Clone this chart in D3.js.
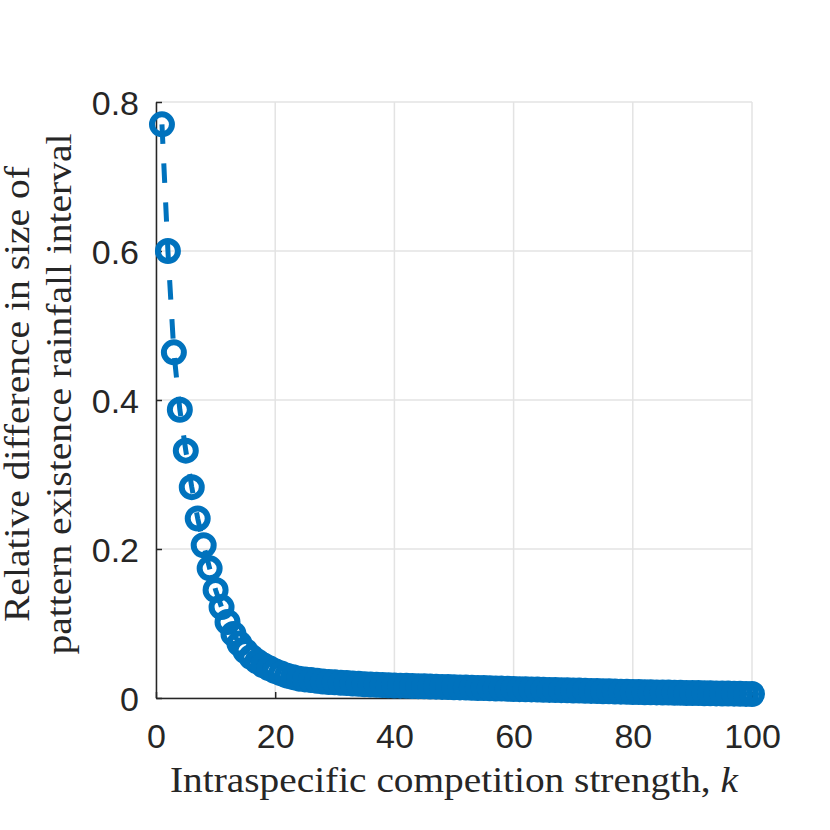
<!DOCTYPE html>
<html>
<head>
<meta charset="utf-8">
<script src="https://cdn.jsdelivr.net/npm/d3@7"></script>
<style>
  html, body { margin: 0; padding: 0; background: #ffffff; }
  svg { display: block; }
</style>
</head>
<body>
<svg id="chart" width="830" height="830"></svg>
<script>
// Valeurs : k = 1..100
const kValues = d3.range(1, 101);
const relDiff = [
  0.770, 0.600, 0.464, 0.387, 0.332, 0.283, 0.241, 0.205, 0.174, 0.145,
  0.122, 0.102, 0.086, 0.073, 0.063, 0.055, 0.049, 0.044, 0.040, 0.036,
  0.033, 0.030, 0.028, 0.026, 0.025, 0.024, 0.023, 0.022, 0.0215, 0.021,
  0.0205, 0.020, 0.0195, 0.019, 0.0185, 0.018, 0.0177, 0.0174, 0.0171, 0.0168,
  0.0166, 0.0164, 0.0161, 0.0159, 0.0157, 0.0154, 0.0152, 0.0149, 0.0147, 0.0145,
  0.0142, 0.0140, 0.0138, 0.0135, 0.0133, 0.0131, 0.0128, 0.0126, 0.0123, 0.0121,
  0.0119, 0.0117, 0.0115, 0.0113, 0.0111, 0.0109, 0.0107, 0.0105, 0.0103, 0.0101,
  0.0099, 0.0097, 0.0095, 0.0093, 0.0091, 0.0089, 0.0087, 0.0085, 0.0083, 0.0081,
  0.0080, 0.0078, 0.0077, 0.0075, 0.0074, 0.0073, 0.0071, 0.0070, 0.0068, 0.0067,
  0.0066, 0.0064, 0.0063, 0.0062, 0.0060, 0.0059, 0.0058, 0.0056, 0.0055, 0.0054
];
const xTicks = [0, 20, 40, 60, 80, 100];
const yTicks = [0, 0.2, 0.4, 0.6, 0.8];
const yLabelLines = ["Relative difference in size of", "pattern existence rainfall interval"];

// Configuration
const config = {
    left: 156, right: 752, top: 102, bottom: 698,
    colors: {
        line: "#0072bd",
        axis: "#262626",
        grid: "#e3e3e3"
    },
    tickFont: "'Liberation Sans', Arial, sans-serif",
    labelFont: "'Liberation Serif', 'Times New Roman', serif"
};

const svg = d3.select("#chart");

const x = d3.scaleLinear().domain([0, 100]).range([config.left, config.right]);
const y = d3.scaleLinear().domain([0, 0.8]).range([config.bottom, config.top]);

// grille
const grid = svg.append("g");
grid.selectAll(".gx").data(xTicks).enter().append("line")
    .attr("x1", d => x(d)).attr("x2", d => x(d))
    .attr("y1", config.top).attr("y2", config.bottom)
    .attr("stroke", config.colors.grid).attr("stroke-width", 1.5);
grid.selectAll(".gy").data(yTicks).enter().append("line")
    .attr("x1", config.left).attr("x2", config.right)
    .attr("y1", d => y(d)).attr("y2", d => y(d))
    .attr("stroke", config.colors.grid).attr("stroke-width", 1.5);

// axes (ticks vers l'intérieur)
const xAxis = svg.append("g")
    .attr("transform", `translate(0,${config.bottom})`)
    .call(d3.axisBottom(x).tickValues(xTicks).tickSizeInner(-6).tickSizeOuter(0));
const yAxis = svg.append("g")
    .attr("transform", `translate(${config.left},0)`)
    .call(d3.axisLeft(y).tickValues(yTicks).tickFormat(d => d === 0 ? "0" : d3.format(".1f")(d))
        .tickSizeInner(-6).tickSizeOuter(0));

[xAxis, yAxis].forEach(ax => {
    ax.select(".domain").attr("stroke", config.colors.axis).attr("stroke-width", 1.5);
    ax.selectAll(".tick line").attr("stroke", config.colors.axis).attr("stroke-width", 1.5);
    ax.selectAll(".tick text")
        .attr("fill", config.colors.axis)
        .style("font-family", config.tickFont)
        .style("font-size", "34px");
});
xAxis.selectAll(".tick text").attr("dy", null).attr("y", 50);
yAxis.selectAll(".tick text").attr("dy", "0.36em").attr("x", -17);

// courbe en tirets
const pts = kValues.map((k, i) => [k, relDiff[i]]);
const lineGen = d3.line().x(d => x(d[0])).y(d => y(d[1]));
svg.append("path")
    .attr("d", lineGen(pts))
    .attr("fill", "none")
    .attr("stroke", config.colors.line)
    .attr("stroke-width", 5)
    .attr("stroke-dasharray", "19.5 19.5");

// marqueurs
svg.append("g").selectAll("circle")
    .data(pts)
    .enter()
    .append("circle")
    .attr("cx", d => x(d[0]))
    .attr("cy", d => y(d[1]))
    .attr("r", 10)
    .attr("fill", "none")
    .attr("stroke", config.colors.line)
    .attr("stroke-width", 6);

// libellés (police étirée à la largeur de l'original)
const xLabel = svg.append("text")
    .attr("x", (config.left + config.right) / 2)
    .attr("y", 792)
    .attr("text-anchor", "middle")
    .attr("textLength", 568)
    .attr("lengthAdjust", "spacingAndGlyphs")
    .attr("fill", config.colors.axis)
    .style("font-family", config.labelFont)
    .style("font-size", "35px");
xLabel.append("tspan").text("Intraspecific competition strength, ");
xLabel.append("tspan").style("font-style", "italic").text("k");

const yMid = (config.top + config.bottom) / 2;
const yLabelLengths = [456, 521];
svg.append("g").selectAll("text")
    .data(yLabelLines)
    .enter()
    .append("text")
    .attr("transform", (d, i) => `translate(${29 + i * 42},${yMid - 6}) rotate(-90)`)
    .attr("text-anchor", "middle")
    .attr("textLength", (d, i) => yLabelLengths[i])
    .attr("lengthAdjust", "spacingAndGlyphs")
    .attr("fill", config.colors.axis)
    .style("font-family", config.labelFont)
    .style("font-size", "35px")
    .text(d => d);
</script>
</body>
</html>
